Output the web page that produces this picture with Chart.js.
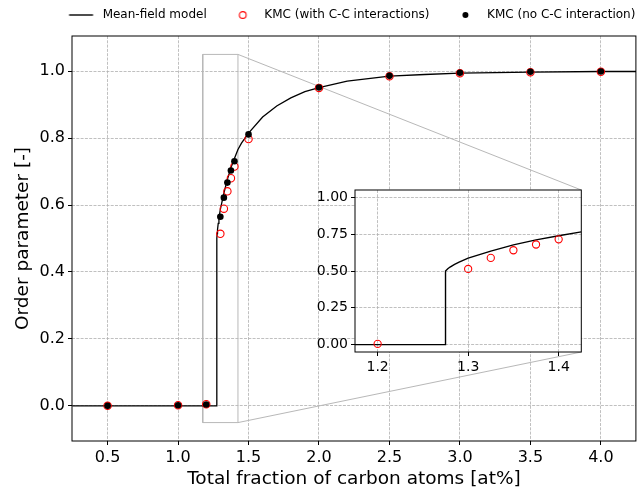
<!DOCTYPE html>
<html><head><meta charset="utf-8">
<script src="https://cdn.jsdelivr.net/npm/chart.js@4/dist/chart.umd.min.js"></script>
<style>
html,body{margin:0;padding:0;background:#fff;}
#wrap{position:relative;width:641px;height:495px;overflow:hidden;}
#main{position:absolute;left:0;top:0;}
#inset{position:absolute;left:300px;top:170px;}
</style>
</head><body>
<div id="wrap"><canvas id="main" width="641" height="495"></canvas><canvas id="inset" width="290" height="215"></canvas></div>
<script>
// ---- data ----
const mfX = [0.25, 1.275, 1.275, 1.2775, 1.28, 1.285, 1.29, 1.30, 1.325, 1.35, 1.375, 1.40, 1.425, 1.45, 1.50, 1.60, 1.70, 1.80, 1.90, 2.00, 2.20, 2.50, 2.75, 3.00, 3.50, 4.00, 4.25];
const mfY = [0.0, 0.0, 0.50, 0.515, 0.527, 0.545, 0.560, 0.587, 0.635, 0.677, 0.711, 0.739, 0.766, 0.785, 0.815, 0.863, 0.896, 0.920, 0.939, 0.951, 0.970, 0.985, 0.990, 0.994, 0.997, 0.999, 0.999];
const kmcX = [0.5, 1.0, 1.2, 1.3, 1.325, 1.35, 1.375, 1.4, 1.5, 2.0, 2.5, 3.0, 3.5, 4.0];
const kmcWithCC = [0.0, 0.002, 0.005, 0.514, 0.589, 0.641, 0.680, 0.715, 0.797, 0.950, 0.985, 0.994, 0.997, 0.998];
const kmcNoCC = [0.0, 0.002, 0.004, 0.565, 0.622, 0.667, 0.703, 0.731, 0.811, 0.951, 0.986, 0.995, 0.998, 0.999];
const seriesNames = ['Mean-field model', 'KMC (with C-C interactions)', 'KMC (no C-C interaction)'];
const xTicks = [0.5, 1.0, 1.5, 2.0, 2.5, 3.0, 3.5, 4.0];
const yTicks = [0.0, 0.2, 0.4, 0.6, 0.8, 1.0];
const insetXTicks = [1.2, 1.3, 1.4];
const insetYTicks = [0.0, 0.25, 0.5, 0.75, 1.0];
const mainXRange = [0.2475, 4.2485];
const mainYRange = [-0.105, 1.105];
const zoomX = [1.175, 1.425];
const zoomY = [-0.05, 1.05];
const xTitle = 'Total fraction of carbon atoms [at%]';
const yTitle = 'Order parameter [-]';

const FONT = "'DejaVu Sans', sans-serif";
const GRID = '#b0b0b0';
const pts = (xs, ys) => xs.map((x, i) => ({x: x, y: ys[i]}));

// legend handle images
function handle(kind) {
  const c = document.createElement('canvas');
  c.width = 60; c.height = 14;
  const g = c.getContext('2d');
  const cx = 37.4, cy = 7;
  if (kind === 'line') {
    g.strokeStyle = '#000'; g.lineWidth = 1.4;
    g.beginPath(); g.moveTo(cx - 12, cy); g.lineTo(cx + 12, cy); g.stroke();
  } else if (kind === 'ring') {
    g.strokeStyle = 'red'; g.lineWidth = 1.1;
    g.beginPath(); g.arc(cx, cy, 3.4, 0, Math.PI * 2); g.stroke();
  } else {
    g.fillStyle = '#000';
    g.beginPath(); g.arc(cx, cy, 3.0, 0, Math.PI * 2); g.fill();
  }
  return c;
}
const handles = [handle('line'), handle('ring'), handle('dot')];

function gridAxis(extra) {
  return Object.assign({
    type: 'linear',
    grid: {color: GRID, lineWidth: 0.8, drawTicks: true, tickLength: 4, tickColor: '#000', tickWidth: 1, tickBorderDash: []},
    border: {display: false, dash: [3, 1.3]},
  }, extra);
}

const framePlugin = {
  id: 'frame',
  beforeDraw(chart, args, opts) {
    const ctx = chart.ctx, a = chart.chartArea;
    ctx.save();
    if (opts.full) { ctx.fillStyle = '#fff'; ctx.fillRect(0, 0, chart.width, chart.height); }
    ctx.fillStyle = '#fff';
    ctx.fillRect(a.left, a.top, a.right - a.left, a.bottom - a.top);
    ctx.restore();
  },
  afterDatasetsDraw(chart) {
    const ctx = chart.ctx, a = chart.chartArea;
    ctx.save();
    ctx.strokeStyle = '#000'; ctx.lineWidth = 1;
    ctx.strokeRect(a.left, a.top, a.right - a.left, a.bottom - a.top);
    ctx.restore();
  }
};

// ---- inset chart ----
const insetChart = new Chart(document.getElementById('inset'), {
  type: 'scatter',
  data: {
    datasets: [
      {label: seriesNames[1], data: pts(kmcX, kmcWithCC), showLine: false, pointStyle: 'circle', pointRadius: 3.6, pointBorderWidth: 1.1, pointBorderColor: 'red', pointBackgroundColor: 'rgba(0,0,0,0)', order: 0},
      {label: seriesNames[0], data: pts(mfX, mfY), showLine: true, borderColor: '#000', borderWidth: 1.4, pointRadius: 0, tension: 0, order: 1}
    ]
  },
  options: {
    responsive: false, animation: false, devicePixelRatio: 1,
    layout: {padding: {top: 20, right: 8.7, left: 0, bottom: 0}},
    plugins: {legend: {display: false}, tooltip: {enabled: false}, frame: {full: false}},
    scales: {
      x: gridAxis({position: 'bottom', min: zoomX[0], max: zoomX[1],
        afterBuildTicks: s => { s.ticks = insetXTicks.map(v => ({value: v})); },
        afterFit: s => { s.height = 33; },
        ticks: {color: '#000', padding: 3, font: {family: FONT, size: 14}, callback: v => Number(v).toFixed(1)}}),
      y: gridAxis({position: 'left', min: zoomY[0], max: zoomY[1],
        afterBuildTicks: s => { s.ticks = insetYTicks.map(v => ({value: v})); },
        afterFit: s => { s.width = 55; },
        ticks: {color: '#000', padding: 3, font: {family: FONT, size: 14}, callback: v => Number(v).toFixed(2)}})
    }
  },
  plugins: [framePlugin]
});

// ---- connectors between zoom box and inset ----
const connectorPlugin = {
  id: 'connectors',
  beforeDatasetsDraw(chart) {
    const xs = chart.scales.x, ys = chart.scales.y, ctx = chart.ctx;
    const ia = insetChart.chartArea;
    const offX = 300, offY = 170;
    ctx.save();
    ctx.strokeStyle = '#b8b8b8'; ctx.lineWidth = 1;
    ctx.beginPath();
    ctx.moveTo(xs.getPixelForValue(zoomX[1]), ys.getPixelForValue(zoomY[1]));
    ctx.lineTo(offX + ia.right, offY + ia.top);
    ctx.moveTo(xs.getPixelForValue(zoomX[1]), ys.getPixelForValue(zoomY[0]));
    ctx.lineTo(offX + ia.right, offY + ia.bottom);
    ctx.stroke();
    ctx.restore();
  }
};

// ---- main chart ----
const rectPts = pts([zoomX[0], zoomX[1], zoomX[1], zoomX[0], zoomX[0]], [zoomY[0], zoomY[0], zoomY[1], zoomY[1], zoomY[0]]);

new Chart(document.getElementById('main'), {
  type: 'scatter',
  data: {
    datasets: [
      {label: seriesNames[0], data: pts(mfX, mfY), showLine: true, borderColor: '#000', borderWidth: 1.3, pointRadius: 0, tension: 0, order: 2},
      {label: seriesNames[1], data: pts(kmcX, kmcWithCC), showLine: false, pointStyle: 'circle', pointRadius: 3.7, pointBorderWidth: 1.1, pointBorderColor: 'red', pointBackgroundColor: 'rgba(0,0,0,0)', order: 1},
      {label: seriesNames[2], data: pts(kmcX, kmcNoCC), showLine: false, pointStyle: 'circle', pointRadius: 3.3, pointBorderWidth: 0, pointBackgroundColor: '#000', pointBorderColor: '#000', order: 0},
      {label: 'zoom', data: rectPts, showLine: true, borderColor: '#b8b8b8', borderWidth: 1, pointRadius: 0, tension: 0, order: 3}
    ]
  },
  options: {
    responsive: false, animation: false, devicePixelRatio: 1,
    layout: {padding: {top: 3.4, right: -45, left: 0, bottom: 0}},
    plugins: {
      tooltip: {enabled: false},
      frame: {full: true},
      legend: {
        display: true, position: 'top', align: 'center', fullSize: true,
        labels: {
          usePointStyle: true, pointStyleWidth: 46, padding: 5.6, color: '#000',
          font: {family: FONT, size: 12},
          generateLabels: chart => {
            const items = Chart.defaults.plugins.legend.labels.generateLabels(chart)
              .filter(it => it.datasetIndex < 3)
              .sort((a, b) => a.datasetIndex - b.datasetIndex);
            items.forEach(it => { it.pointStyle = handles[it.datasetIndex]; it.fontColor = '#000'; });
            return items;
          }
        }
      }
    },
    scales: {
      x: gridAxis({position: 'bottom', min: mainXRange[0], max: mainXRange[1],
        afterBuildTicks: s => { s.ticks = xTicks.map(v => ({value: v})); },
        afterFit: s => { s.height = 54; },
        title: {display: true, text: xTitle, color: '#000', font: {family: FONT, size: 18.5}, padding: {top: 0, bottom: 4.9}},
        ticks: {color: '#000', padding: 3, font: {family: FONT, size: 16}, callback: v => Number(v).toFixed(1)}}),
      y: gridAxis({position: 'left', min: mainYRange[0], max: mainYRange[1],
        afterBuildTicks: s => { s.ticks = yTicks.map(v => ({value: v})); },
        afterFit: s => { s.width = 72; },
        title: {display: true, text: yTitle, color: '#000', font: {family: FONT, size: 18.5}, padding: {top: 11.9, bottom: 0}},
        ticks: {color: '#000', padding: 3, font: {family: FONT, size: 16}, callback: v => Number(v).toFixed(1)}}),
      xTop: {type: 'linear', position: 'top', display: true, grid: {display: false}, ticks: {display: false}, border: {display: false},
        afterFit: s => { s.height = 5; }},
      yRight: {type: 'linear', position: 'right', display: true, grid: {display: false}, ticks: {display: false}, border: {display: false},
        afterFit: s => { s.width = 49; }}
    }
  },
  plugins: [framePlugin, connectorPlugin]
});
</script>
</body></html>
